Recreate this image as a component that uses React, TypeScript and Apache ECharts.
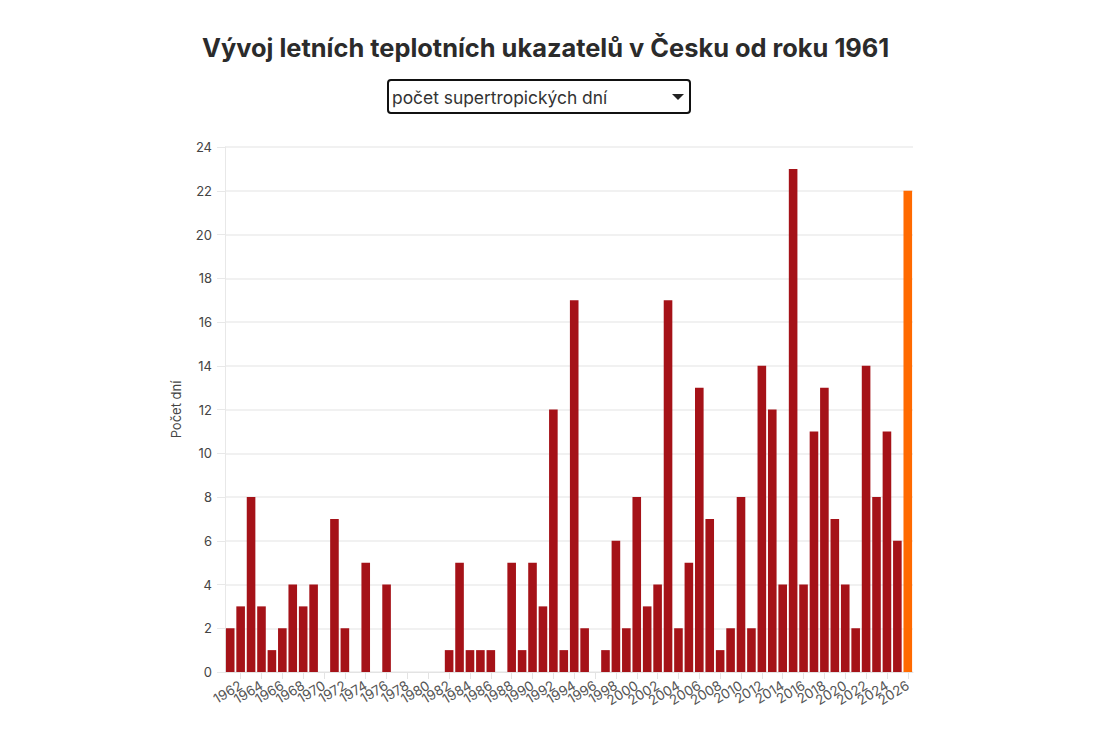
import React, { useEffect, useRef } from "react";
import * as echarts from "echarts";

const TITLE = "Vývoj letních teplotních ukazatelů v Česku od roku 1961";
const SELECT_LABEL = "počet supertropických dní";
const Y_NAME = "Počet dní";
const X_NAME = "Rok";

const years: number[] = [];
for (let y = 1961; y <= 2026; y++) years.push(y);

const tickYears: number[] = [];
for (let y = 1962; y <= 2026; y += 2) tickYears.push(y);
// labels split over two overlaid axes so that the library does not drop overlapping neighbours
const labelYearsA = tickYears.filter((_, i) => i % 2 === 0);
const labelYearsB = tickYears.filter((_, i) => i % 2 === 1);

const values: number[] = [
  2, 3, 8, 3, 1, 2, 4, 3, 4, 0, // 1961-1970
  7, 2, 0, 5, 0, 4, 0, 0, 0, 0, // 1971-1980
  0, 1, 5, 1, 1, 1, 0, 5, 1, 5, // 1981-1990
  3, 12, 1, 17, 2, 0, 1, 6, 2, 8, // 1991-2000
  3, 4, 17, 2, 5, 13, 7, 1, 2, 8, // 2001-2010
  2, 14, 12, 4, 23, 4, 11, 13, 7, 4, // 2011-2020
  2, 14, 8, 11, 6, 22, // 2021-2026
];

const highlightYear = 2026;
const BAR = "#a51218";
const HIGHLIGHT = "#ff6a00";

export default function App() {
  const ref = useRef<HTMLDivElement>(null);
  useEffect(() => {
    if (!ref.current) return;
    const chart = echarts.init(ref.current, undefined, { renderer: "svg" });
    const font = "Inter, 'Noto Sans', sans-serif";
    const labelStyle = {
      formatter: (v: number) => String(v),
      hideOverlap: false,
      rotate: 31,
      fontSize: 13.5,
      color: "#555",
      margin: 12,
    };
    chart.setOption({
      animation: false,
      textStyle: { fontFamily: font },
      title: {
        text: TITLE,
        left: 197,
        top: 30,
        textStyle: { fontSize: 25.4, fontWeight: 700, color: "#2b2b2b", fontFamily: font },
      },
      graphic: [
        {
          type: "rect",
          shape: { x: 388, y: 80, width: 302, height: 33, r: 3 },
          style: { fill: "#fff", stroke: "#111", lineWidth: 2 },
        },
        {
          type: "text",
          x: 392,
          y: 97,
          style: {
            text: SELECT_LABEL,
            fontSize: 17.4,
            fill: "#333",
            fontFamily: font,
            verticalAlign: "middle",
          },
        },
        {
          type: "polygon",
          shape: { points: [[672, 94], [684, 94], [678, 100]] },
          style: { fill: "#222" },
        },
      ],
      grid: { left: 225, right: 189, top: 147, bottom: 88, containLabel: false, outerBoundsMode: "none" },
      xAxis: [
        {
          type: "value",
          position: "bottom",
          offset: 0,
          min: 1960.5,
          max: 2026.5,
          name: X_NAME,
          nameLocation: "middle",
          nameGap: 75,
          nameTextStyle: { fontSize: 14, color: "#444" },
          splitLine: { show: false },
          axisLine: { show: true, lineStyle: { color: "#e3e3e3" } },
          axisTick: {
            show: true,
            length: 7,
            customValues: tickYears,
            lineStyle: { color: "#e3e3e3" },
          },
          axisLabel: { ...labelStyle, customValues: labelYearsA },
        },
        {
          type: "value",
          position: "bottom",
          offset: 0,
          min: 1960.5,
          max: 2026.5,
          splitLine: { show: false },
          axisLine: { show: false },
          axisTick: { show: false },
          axisLabel: { ...labelStyle, customValues: labelYearsB },
        },
      ],
      yAxis: {
        type: "value",
        min: 0,
        max: 24,
        interval: 2,
        name: Y_NAME,
        nameLocation: "middle",
        nameGap: 43,
        nameTextStyle: { fontSize: 13, color: "#444" },
        axisLine: { show: true, lineStyle: { color: "#e8e8e8" } },
        axisTick: { show: true, length: 8, lineStyle: { color: "#e8e8e8" } },
        axisLabel: { fontSize: 13, color: "#444", margin: 13 },
        splitLine: { show: true, lineStyle: { color: "#ececec", width: 1.5 } },
      },
      series: [
        {
          type: "bar",
          xAxisIndex: 0,
          barWidth: 8.6,
          data: values.map((v, i) => ({
            value: [years[i], v],
            itemStyle: { color: years[i] === highlightYear ? HIGHLIGHT : BAR },
          })),
        },
      ],
    });
    return () => chart.dispose();
  }, []);
  return (
    <div style={{ position: "fixed", left: 0, top: 0, width: 1102, height: 734, overflow: "hidden", background: "#fff" }}>
      <div ref={ref} style={{ width: 1102, height: 760 }} />
    </div>
  );
}
